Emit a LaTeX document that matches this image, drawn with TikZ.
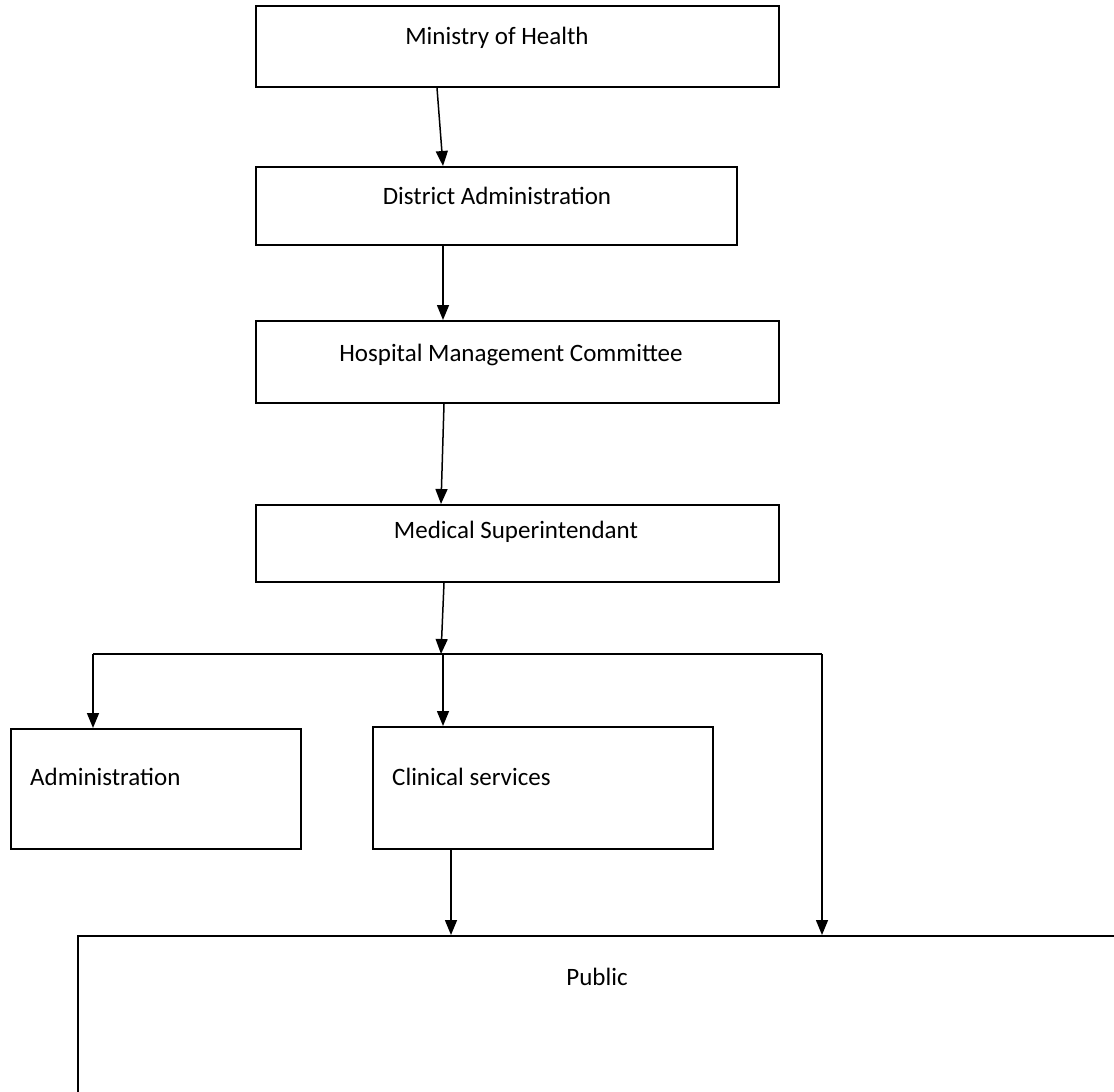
\documentclass[tikz,border=0pt]{standalone}
\usepackage{fontspec}
\setmainfont{Carlito}
\usepackage{tikz}
\usetikzlibrary{arrows.meta,positioning}
\tikzset{arrow/.style={-{Triangle[length=15pt,width=12pt]}, line width=1.5pt}}
\tikzset{box/.style={draw, line width=2pt, inner sep=0pt, anchor=north west}}
\tikzset{label/.style={inner sep=0pt}}

\begin{document}
\begin{tikzpicture}[x=1pt,y=-1pt,font=\fontsize{25}{30}\selectfont]
		\useasboundingbox (0,0) rectangle (1114,1092);
		
		\node[box, minimum width=523pt, minimum height=81pt] (mh) at (255,5) {};
		\node[box, minimum width=481pt, minimum height=78pt] (dh) at (255,166) {};
		\node[box, minimum width=523pt, minimum height=82pt] (hmc) at (255,320) {};
		\node[box, minimum width=523pt, minimum height=77pt] (ms) at (255,504) {};
		\node[box, minimum width=290pt, minimum height=120pt] (adm) at (10,728) {};
		\node[box, minimum width=340pt, minimum height=122pt] (cs) at (372,726) {};
		\node[box, minimum width=1060pt, minimum height=180pt] (pub) at (77,935) {};
		
		\node[label] (mhtext) at (497,38) {Ministry of Health};
		\node[label] (dhtext) at (497,196) {District Administration};
		\node[label] (hmctext) at (511,355) {Hospital Management Committee};
		\node[label] (mstext) at (516,532) {Medical Superintendant};
		\node[label, anchor=west] (admtext) at (30,777) {Administration};
		\node[label, anchor=west] (cstext) at (392,777) {Clinical services};
		\node[label] (pubtext) at (597,977) {Public};
		
		\coordinate (jl) at (93,654);
		\coordinate (jc) at (441,654);
		\coordinate (jm) at (443,654);
		\coordinate (jr) at (822,654);
		
		\draw[arrow] ([xshift=182pt]mh.south west) -- ([xshift=188pt]dh.north west);
		\draw[arrow] ([xshift=188pt]dh.south west) -- ([xshift=188pt]hmc.north west);
		\draw[arrow] ([xshift=189pt]hmc.south west) -- ([xshift=186pt]ms.north west);
		\draw[arrow] ([xshift=189pt]ms.south west) -- (jc);
		\draw[line width=1.5pt] (jl) -- (jr);
		\draw[arrow] (jl) -- (jl |- adm.north);
		\draw[arrow] (jm) -- (jm |- cs.north);
		\draw[arrow] (jr) -- (jr |- pub.north);
		\draw[arrow] ([xshift=79pt]cs.south west) -- ([xshift=79pt]cs.south west |- pub.north);
	\end{tikzpicture}
\end{document}
